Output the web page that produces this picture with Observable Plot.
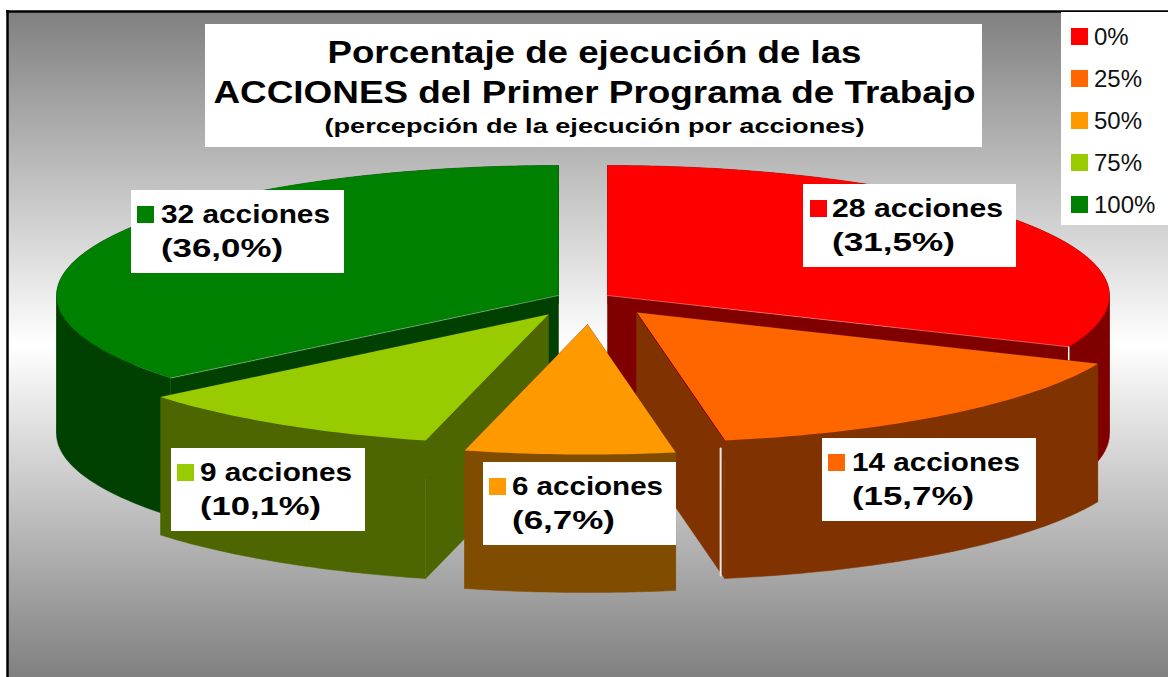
<!DOCTYPE html>
<html lang="es">
<head>
<meta charset="utf-8">
<title>Porcentaje de ejecución</title>
<script src="https://cdn.jsdelivr.net/npm/d3@7"></script>
<script src="https://cdn.jsdelivr.net/npm/@observablehq/plot@0.6"></script>
<style>
  html, body { margin: 0; padding: 0; background: #fff; }
  svg { display: block; }
</style>
</head>
<body>
<div id="chart"></div>
<script>
// --- Data ---
const categorias = ["0%", "25%", "50%", "75%", "100%"];
const acciones = [28, 14, 6, 9, 32];
const porcentajes = ["31,5%", "15,7%", "6,7%", "10,1%", "36,0%"];
const colores = ["#ff0000", "#ff6600", "#ff9900", "#99cc00", "#008000"];
const paredes = ["#800000", "#803300", "#804d00", "#4d6600", "#004000"];

// --- Layout of the exploded 3-D pie (not data) ---
const W = 1168, H = 677;
const rx = 502, ry = 130, depth = 138;
const apex = [[607, 295], [636, 312], [587, 324], [548, 314], [558, 295]];
const paintOrder = [4, 0, 3, 1, 2];
const labelBoxes = [
  {x: 803, y: 184, w: 213, sx: 810, tx: 831.5},
  {x: 822, y: 438, w: 214, sx: 828, tx: 851.5},
  {x: 483, y: 462, w: 193, sx: 489, tx: 511.5},
  {x: 171, y: 448, w: 194, sx: 177, tx: 199.5},
  {x: 131, y: 190, w: 213, sx: 137, tx: 160.5}
];
const titleLines = [
  {t: "Porcentaje de ejecución de las", y: 62, size: 32},
  {t: "ACCIONES del Primer Programa de Trabajo", y: 102, size: 32},
  {t: "(percepción de la ejecución por acciones)", y: 132, size: 21}
];
const textWidths = new Map([
  ["Porcentaje de ejecución de las", 534],
  ["ACCIONES del Primer Programa de Trabajo", 762],
  ["(percepción de la ejecución por acciones)", 540],
  ["28 acciones", 171], ["(31,5%)", 123],
  ["14 acciones", 168], ["(15,7%)", 122],
  ["6 acciones", 151], ["(6,7%)", 103],
  ["9 acciones", 152], ["(10,1%)", 121],
  ["32 acciones", 169], ["(36,0%)", 122]
]);

// --- Geometry from the data: d3.pie gives the angles ---
const arcs = d3.pie().sort(null).startAngle(0).endAngle(2 * Math.PI)(acciones);
const pt = (i, a, dz = 0) => ({
  x: apex[i][0] + rx * Math.sin(a),
  y: apex[i][1] - ry * Math.cos(a) + dz
});
const arcAngles = (a0, a1) => {
  const n = Math.max(2, Math.ceil((a1 - a0) * 180 / Math.PI));
  return d3.range(n + 1).map(k => a0 + (a1 - a0) * k / n);
};
const ctr = (i, dz = 0) => ({x: apex[i][0], y: apex[i][1] + dz});
const topFace = i => [ctr(i), ...arcAngles(arcs[i].startAngle, arcs[i].endAngle).map(a => pt(i, a))];
// The outer wall is a ribbon split where the ellipse turns back, so each part is a simple polygon.
const wall = i => {
  const {startAngle: a0, endAngle: a1} = arcs[i];
  const breaks = [a0, ...[Math.PI / 2, 3 * Math.PI / 2].filter(b => b > a0 && b < a1), a1];
  return d3.range(breaks.length - 1).flatMap(k => {
    const as = arcAngles(breaks[k], breaks[k + 1]);
    return [...as.map(a => pt(i, a)), ...as.slice().reverse().map(a => pt(i, a, depth))].map(p => ({...p, k}));
  });
};
const cut = (i, a) => [ctr(i), pt(i, a), pt(i, a, depth), ctr(i, depth)];
const poly = (pts, fill) => Plot.line(pts, {x: "x", y: "y", fill, stroke: fill, strokeWidth: 0.5, curve: "linear"});
const seam = (pts, stroke, strokeWidth, strokeOpacity = 1) => Plot.line(pts, {x: "x", y: "y", stroke, strokeWidth, strokeOpacity, curve: "linear"});

const sliceMarks = paintOrder.flatMap(i => {
  const marks = [
    poly(cut(i, arcs[i].startAngle), paredes[i]),
    poly(cut(i, arcs[i].endAngle), paredes[i]),
    Plot.line(wall(i), {x: "x", y: "y", z: "k", fill: paredes[i], stroke: paredes[i], strokeWidth: 0.5, curve: "linear"})
  ];
  if (i === 0) {
    const e = pt(0, arcs[0].endAngle), f = pt(0, arcs[0].endAngle, depth);
    marks.push(seam([e, f], "#ffffff", 1.5));
  }
  if (i === 1) {
    const e = pt(1, arcs[1].endAngle), f = pt(1, arcs[1].endAngle, depth);
    marks.push(seam([{x: e.x - 4, y: e.y + 8}, {x: f.x - 4, y: f.y - 3}], "#e8e8e8", 2));
  }
  marks.push(Plot.line(topFace(i), {x: "x", y: "y", fill: () => categorias[i], stroke: "none", curve: "linear"}));
  if (i === 0 || i === 4) {
    marks.push(seam([ctr(i), pt(i, i === 0 ? arcs[i].endAngle : arcs[i].startAngle)], "#ffffff", 1, 0.35));
  }
  if (i === 1) marks.push(seam([ctr(1), pt(1, arcs[1].endAngle)], "#800000", 1));
  return marks;
});

// --- Label, title and legend tables ---
const boxes = labelBoxes.map((b, i) => ({i, x1: b.x, x2: b.x + b.w, y1: b.y, y2: b.y + 83}));
const swatches = labelBoxes.map((b, i) => ({cat: categorias[i], x1: b.sx, x2: b.sx + 17, y1: b.y + 16, y2: b.y + 33}));
const labelText = labelBoxes.flatMap((b, i) => [
  {t: `${acciones[i]} acciones`, x: b.tx, y: b.y + 32},
  {t: `(${porcentajes[i]})`, x: b.tx, y: b.y + 66}
]);
const legend = categorias.map((cat, i) => ({cat, x1: 1071, x2: 1088, y1: 28 + 42 * i, y2: 45 + 42 * i, tx: 1093.5, ty: 44 + 42 * i}));
const font = "Liberation Sans, Arial, sans-serif";

const chart = Plot.plot({
  width: W, height: H,
  margin: 0,
  x: {domain: [0, W], range: [0, W], axis: null},
  y: {domain: [0, H], range: [0, H], axis: null},
  color: {domain: categorias, range: colores},
  style: {
    background: "linear-gradient(#808080 0%, #ffffff 50%, #808080 100%) 8px 12px / 1160px 665px no-repeat, #ffffff",
    overflow: "hidden"
  },
  marks: [
    Plot.ruleX([7], {y1: 10, y2: H, stroke: "#000", strokeWidth: 2.5}),
    Plot.ruleY([11], {x1: 6, x2: W, stroke: "#000", strokeWidth: 2.5}),
    ...sliceMarks,
    Plot.rect([{x1: 205, x2: 982, y1: 24, y2: 147}], {x1: "x1", x2: "x2", y1: "y1", y2: "y2", fill: "#fff"}),
    ...titleLines.map(l => Plot.text([l], {
      x: () => 594, y: "y", text: "t", fontSize: l.size, fontWeight: "bold", fontFamily: font,
      textAnchor: "middle", lineAnchor: "bottom", fill: "#000"
    })),
    Plot.rect([{x1: 1061, x2: W, y1: 12, y2: 225}], {x1: "x1", x2: "x2", y1: "y1", y2: "y2", fill: "#fff"}),
    Plot.rect(legend, {x1: "x1", x2: "x2", y1: "y1", y2: "y2", fill: "cat"}),
    Plot.text(legend, {x: "tx", y: "ty", text: "cat", fontSize: 24, fontFamily: font, textAnchor: "start", lineAnchor: "bottom", fill: "#111"}),
    Plot.rect(boxes, {x1: "x1", x2: "x2", y1: "y1", y2: "y2", fill: "#fff"}),
    Plot.rect(swatches, {x1: "x1", x2: "x2", y1: "y1", y2: "y2", fill: "cat"}),
    Plot.text(labelText, {x: "x", y: "y", text: "t", fontSize: 25, fontWeight: "bold", fontFamily: font, textAnchor: "start", lineAnchor: "bottom", fill: "#000"})
  ]
});

chart.querySelectorAll("text").forEach(el => {
  const w = textWidths.get(el.textContent.trim());
  if (w) {
    el.setAttribute("textLength", w);
    el.setAttribute("lengthAdjust", "spacingAndGlyphs");
  }
});
document.getElementById("chart").append(chart);
</script>
</body>
</html>
